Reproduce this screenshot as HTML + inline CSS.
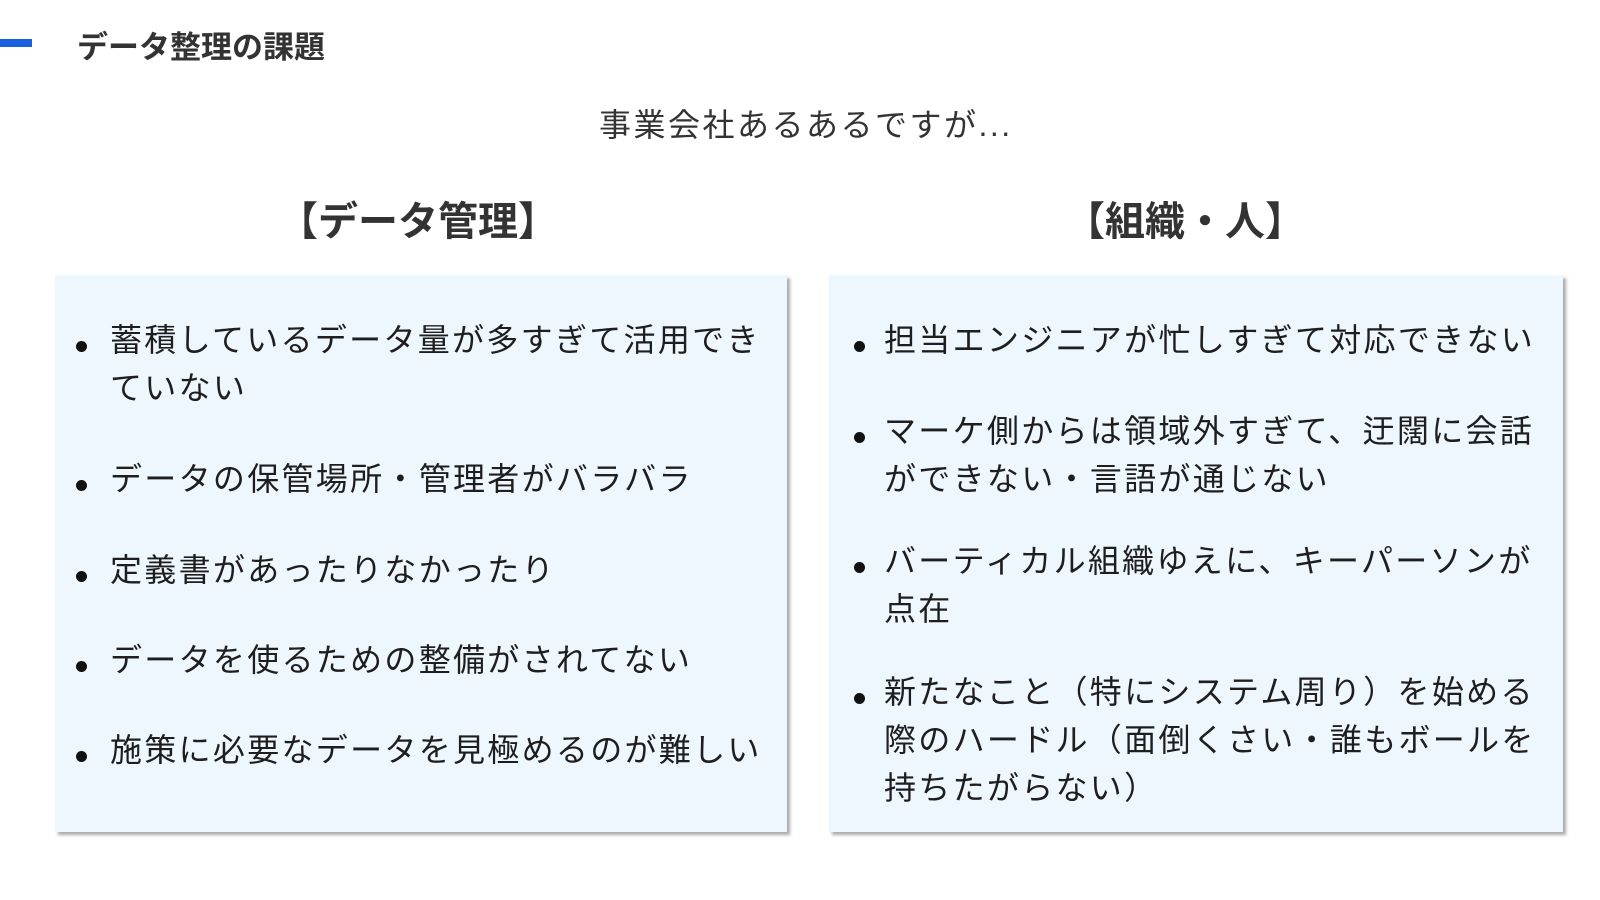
<!DOCTYPE html>
<html><head><meta charset="utf-8"><style>
body{margin:0;width:1600px;height:900px;background:#fff;position:relative;overflow:hidden;font-family:"Liberation Sans","Noto Sans CJK JP",sans-serif;color:#1e1e1e}
.a{position:absolute;white-space:nowrap}
.box{position:absolute;top:275px;height:557px;background:#eef6fe;box-shadow:3px 3px 3px #aaa}
.t{position:absolute;white-space:nowrap;font-size:32px;letter-spacing:2.3px;line-height:48px}
.d{position:absolute;width:11px;height:11px;border-radius:50%;background:#111}
</style></head><body>
<div class="a" style="left:0;top:39px;width:32px;height:8px;background:#1a5fe0"></div>
<div class="a" style="left:77px;top:22px;font-size:31px;font-weight:bold;color:#333">データ整理の課題</div>
<div class="a" style="left:599px;top:100px;font-size:32px;letter-spacing:2.5px;color:#333">事業会社あるあるですが...</div>
<div class="a" style="left:278px;top:189px;font-size:40px;font-weight:bold;color:#333">【データ管理】</div>
<div class="a" style="left:1065px;top:189px;font-size:40px;font-weight:bold;color:#333">【組織・人】</div>
<div class="box" style="left:55px;width:732px"></div>
<div class="box" style="left:829px;width:734px"></div>

<div class="d" style="left:76px;top:341px"></div>
<div class="t" style="left:110px;top:316px">蓄積しているデータ量が多すぎて活用でき<br>ていない</div>
<div class="d" style="left:76px;top:480px"></div>
<div class="t" style="left:110px;top:455px">データの保管場所・管理者がバラバラ</div>
<div class="d" style="left:76px;top:571px"></div>
<div class="t" style="left:110px;top:546px">定義書があったりなかったり</div>
<div class="d" style="left:76px;top:661px"></div>
<div class="t" style="left:110px;top:636px">データを使るための整備がされてない</div>
<div class="d" style="left:76px;top:751px"></div>
<div class="t" style="left:110px;top:726px">施策に必要なデータを見極めるのが難しい</div>

<div class="d" style="left:854px;top:341px"></div>
<div class="t" style="left:884px;top:316px">担当エンジニアが忙しすぎて対応できない</div>
<div class="d" style="left:854px;top:432px"></div>
<div class="t" style="left:884px;top:407px">マーケ側からは領域外すぎて、迂闊に会話<br>ができない・言語が通じない</div>
<div class="d" style="left:854px;top:562px"></div>
<div class="t" style="left:884px;top:537px">バーティカル組織ゆえに、キーパーソンが<br>点在</div>
<div class="d" style="left:854px;top:693px"></div>
<div class="t" style="left:884px;top:668px">新たなこと（特にシステム周り）を始める<br>際のハードル（面倒くさい・誰もボールを<br>持ちたがらない）</div>
</body></html>
